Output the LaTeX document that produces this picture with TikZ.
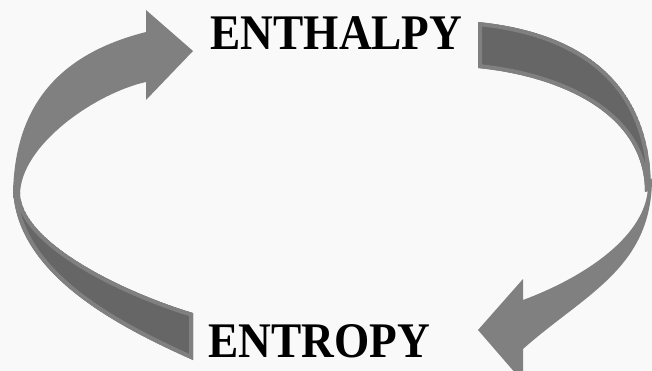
\documentclass[tikz,border=0pt]{standalone}
\usepackage{fontspec}
\setmainfont{Liberation Serif}
\definecolor{bgc}{HTML}{F9F9F9}
\definecolor{frontc}{HTML}{808080}
\definecolor{backc}{HTML}{666666}
\newcommand\leftbackpath{(13,185) .. controls (13,275) and (123,328.5) .. (193,360) -- (193,313) .. controls (123,292) and (20,242) .. (20,192) -- cycle}
\newcommand\rightbackpath{(478,22) .. controls (578,32) and (651,80) .. (651,190) -- (645,192) .. controls (645,112) and (558,76) .. (478,68) -- cycle}
\begin{document}
\begin{tikzpicture}[x=1pt,y=-1pt,
  frontface/.style={fill=frontc},
  backface/.style={fill=backc},
  rim/.style={draw=frontc,line width=8pt,line join=round},
  wordlabel/.style={font=\bfseries\fontsize{49.8}{50}\selectfont, xscale=0.91, anchor=base, inner sep=0pt, text=black}]
\fill[bgc] (0,0) rectangle (652,371);
\clip (0,0) rectangle (652,371);
% left arrow: back face (tail)
\begin{scope}
  \clip \leftbackpath;
  \fill[backface] \leftbackpath;
  \draw[rim] \leftbackpath;
\end{scope}
% left arrow: front face with head
\fill[frontface] (13,198) .. controls (13,95) and (71,51) .. (146,32)
  -- (146,10) -- (193,51) -- (146,100) -- (146,82)
  .. controls (96,93) and (20,145) .. (20,195) -- cycle;
% right arrow: back face (tail)
\begin{scope}
  \clip \rightbackpath;
  \fill[backface] \rightbackpath;
  \draw[rim] \rightbackpath;
\end{scope}
% right arrow: front face with head
\fill[frontface] (652,178) .. controls (652,268) and (585,294) .. (523,349)
  -- (523,382) -- (478,330) -- (523,279) -- (523,300)
  .. controls (585,277) and (648,235) .. (648,185) -- cycle;
% labels
\node[wordlabel] (enthalpy) at (336.5,50) {ENTHALPY};
\node[wordlabel] (entropy) at (319,357) {ENTROPY};
\end{tikzpicture}
\end{document}
